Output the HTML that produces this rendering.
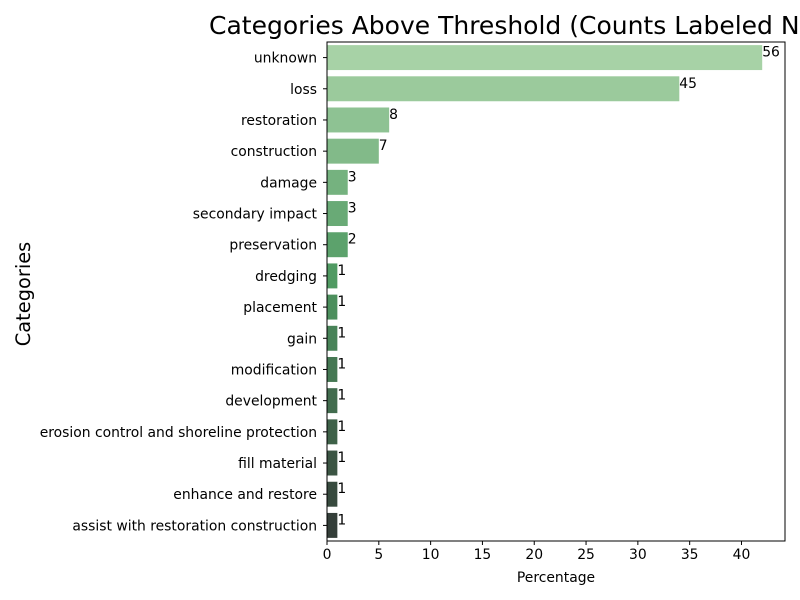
<!DOCTYPE html>
<html><head><meta charset="utf-8"><style>
html,body{margin:0;padding:0;background:#fff}
svg{display:block;font-family:"DejaVu Sans","Liberation Sans",sans-serif}
</style></head><body>
<svg id="chart" width="800" height="600" viewBox="0 0 800 600">
<text x="209" y="34" font-size="25" fill="#000">Categories Above Threshold (Counts Labeled Next to Bars)</text>
<text transform="translate(30,294) rotate(-90)" text-anchor="middle" font-size="19.4">Categories</text>
<text x="556" y="582" text-anchor="middle" font-size="13.9">Percentage</text>
<g id="plot"></g>
</svg>
<script>
const categories=["unknown","loss","restoration","construction","damage","secondary impact","preservation","dredging","placement","gain","modification","development","erosion control and shoreline protection","fill material","enhance and restore","assist with restoration construction"];
const percentages=[42,34,6,5,2,2,2,1,1,1,1,1,1,1,1,1];
const counts=[56,45,8,7,3,3,2,1,1,1,1,1,1,1,1,1];
const xTicks=[0,5,10,15,20,25,30,35,40];
const L=327,R=785,T=42,B=541,XMAX=44.2;
const ns="http://www.w3.org/2000/svg";
const g=document.getElementById('plot');
const x=v=>L+(v/XMAX)*(R-L);
const band=(B-T)/categories.length;
const y=i=>T+i*band;
function mk(t,a){const e=document.createElementNS(ns,t);for(const k in a)e.setAttribute(k,a[k]);g.appendChild(e);return e;}
const cA=[167,210,166],cM=[79,154,98],cB=[52,62,57];
function colAt(f){let a,b,t;if(f<0.47){a=cA;b=cM;t=f/0.47;}else{a=cM;b=cB;t=(f-0.47)/0.53;}return `rgb(${a.map((v,j)=>Math.round(v+(b[j]-v)*t)).join(',')})`;}
categories.forEach((c,i)=>{
  const col=colAt(i/(categories.length-1));
  const r=mk('rect',{x:L,y:y(i)+band*0.1,width:x(percentages[i])-L,height:band*0.8,fill:col});
  
  
  const t=mk('text',{x:x(percentages[i]),y:y(i)+band/2-1,'font-size':13.9});
  t.textContent=counts[i];
  
  
  const lb=mk('text',{x:L-10,y:y(i)+band/2+5,'font-size':13.9,'text-anchor':'end'});
  lb.textContent=c;
  
  
  const tk=mk('line',{x1:L-4,x2:L,y1:y(i)+band/2,y2:y(i)+band/2,stroke:'#000'});
  
  
});
xTicks.forEach(v=>{
  const tk=mk('line',{x1:x(v),x2:x(v),y1:B,y2:B+4,stroke:'#000'});
  
  
  const t=mk('text',{x:x(v),y:B+18,'font-size':13.9,'text-anchor':'middle'});
  t.textContent=v;
  
  
});
const fr=mk('rect',{x:L,y:T,width:R-L,height:B-T,fill:'none',stroke:'#000','stroke-width':1});


</script>
</body></html>
